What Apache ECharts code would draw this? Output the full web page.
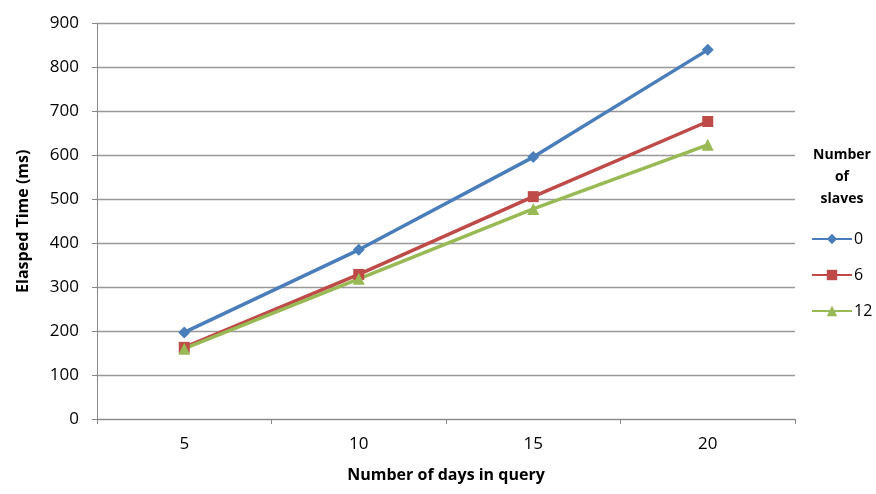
<!DOCTYPE html>
<html><head><meta charset="utf-8">
<script src="https://cdn.jsdelivr.net/npm/echarts@6/dist/echarts.min.js"></script>
<style>html,body{margin:0;padding:0;background:#fff}#c{width:876px;height:494px}</style>
</head><body><div id="c"></div>
<script>
const categories = ['5','10','15','20'];
const s0 = [197, 385, 596, 840];
const s6 = [163, 329, 506, 677];
const s12 = [160, 319, 478, 624];
const seriesNames = ['0','6','12'];
const font = 'Open Sans';
const chart = echarts.init(document.getElementById('c'));
function mk(name, data, color, symbol, size){
  return {name, type:'line', data, symbol, symbolSize:size, showSymbol:true,
    lineStyle:{color, width:3.5}, itemStyle:{color}, emphasis:{disabled:true}};
}
chart.setOption({
  animation:false,
  textStyle:{fontFamily:font},
  title:{text:'Number\nof\nslaves', left:837, top:139, textAlign:'center',
    textStyle:{fontFamily:font, fontSize:14, fontWeight:'bold', color:'#000', lineHeight:22}},
  legend:{orient:'vertical', left:806, top:226, padding:[5,0,5,5], itemWidth:40, itemHeight:13, itemGap:20,
    textStyle:{fontFamily:font, fontSize:16, color:'#000', padding:[0,0,0,-3]}, data:seriesNames},
  grid:{left:97, right:81, top:23.5, bottom:75, containLabel:false},
  xAxis:{type:'category', data:categories, boundaryGap:true,
    name:'Number of days in query', nameLocation:'middle', nameGap:48,
    nameTextStyle:{fontFamily:font, fontSize:16, fontWeight:'bold', color:'#000'},
    axisLine:{lineStyle:{color:'#888', width:1}},
    axisTick:{show:true, length:5, alignWithLabel:false, lineStyle:{color:'#888'}},
    axisLabel:{fontFamily:font, fontSize:17, color:'#000', margin:17}},
  yAxis:{type:'value', min:0, max:900, interval:100,
    name:'Elasped Time (ms)', nameLocation:'middle', nameGap:66, nameRotate:90,
    nameTextStyle:{fontFamily:font, fontSize:16, fontWeight:'bold', color:'#000'},
    axisLine:{show:true, lineStyle:{color:'#888', width:1}},
    axisTick:{show:true, length:5, lineStyle:{color:'#888'}},
    axisLabel:{fontFamily:font, fontSize:17, color:'#000', margin:18},
    splitLine:{lineStyle:{color:'#999', width:1.3}}},
  series:[
    mk('0', s0, '#4A7EBB', 'diamond', 12),
    mk('6', s6, '#BE4B48', 'rect', 11),
    mk('12', s12, '#98B954', 'triangle', 12)
  ]
});
</script></body></html>
